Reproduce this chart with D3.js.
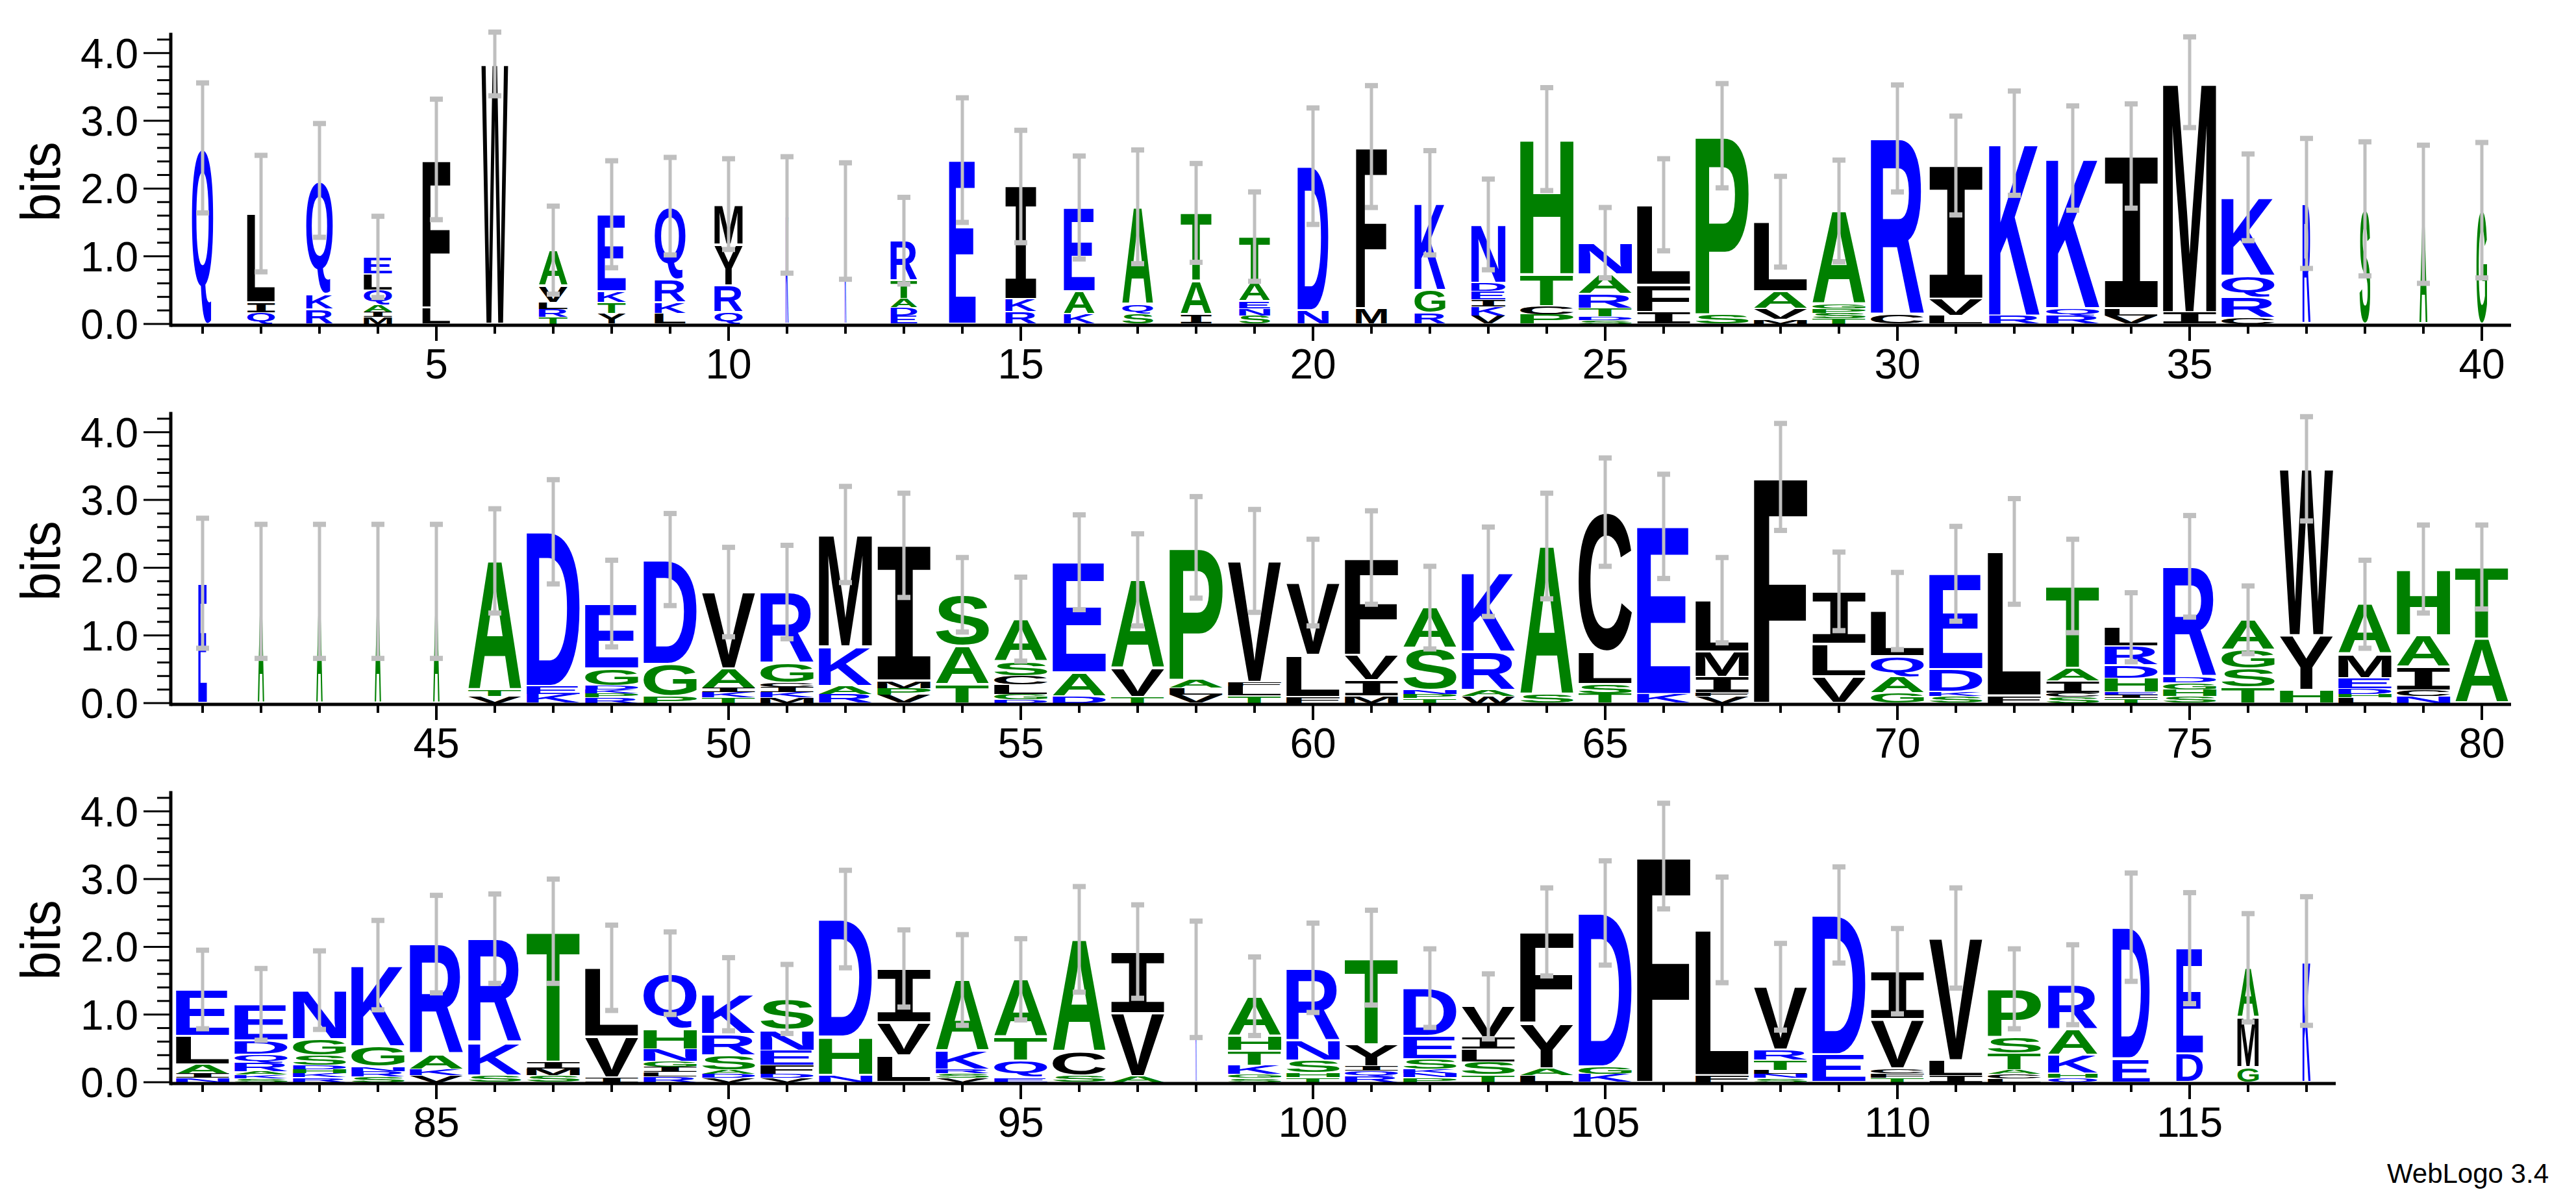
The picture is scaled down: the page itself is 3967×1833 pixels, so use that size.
<!DOCTYPE html>
<html lang="en">
<head>
<meta charset="utf-8">
<title>WebLogo</title>
<script src="https://d3js.org/d3.v7.min.js"></script>
<style>
  body { margin: 0; background: white; }
  svg { display: block; }
</style>
</head>
<body>
<script>

// letter stacks, top to bottom: letter + height in bits
var stacks = [
  "Q2.6", "L1.31 I.15 Q.17", "Q1.68 K.22 R.22", "E.25 L.24 Q.22 A.1 I.08 M.1", "F2.19 L.24",
  "W3.84", "A.53 V.24 L.1 R.12 T.1", "E1.14 K.16 T.16 Y.16", "Q1.08 R.34 K.16 L.16", "M.6 Y.6 R.4 Q.17",
  "K1.61", "K1.52", "R.59 T.27 A.13 D.12 E.12", "E2.42", "I1.67 K.18 R.18",
  "E1.24 A.33 K.15", "A1.44 Q.14 S.15", "T1.01 A.49 I.14", "T.68 A.27 E.11 N.11 S.12", "D2.13 N.2",
  "F2.39 M.23", "K1.29 G.34 R.16", "N.87 D.12 E.12 I.11 K.13 V.12", "H2.0 T.47 C.12 P.14", "N.47 A.28 R.22 T.12 D.05 S.06",
  "L1.18 F.4 I.18", "P2.64 S.14", "L1.03 A.25 V.16 M.07", "A1.37 G.07 P.07 S.08 T.08", "R2.61 C.13",
  "I1.97 V.25 L.12", "K2.55 R.12", "K2.22 Q.11 R.12", "I2.25 L.11 V.12", "M3.4 I.17",
  "K1.16 Q.31 R.31 C.09", "R1.78", "S1.7", "A1.62", "G1.68",
  "E1.77", "A1.65", "A1.65", "A1.65", "A1.65",
  "A1.91 T.09 V.1", "D2.28 E.12 K.13", "E.96 G.25 D.06 K.06 P.06 R.08", "D1.54 G.48 P.1", "V1.13 A.29 I.06 K.08 T.08",
  "R1.05 G.29 C.06 I.08 K.08 M.08", "M1.66 K.58 A.12 R.13", "I2.0 M.11 P.1 V.12", "S.76 A.57 T.27", "A.63 S.21 C.13 L.14 G.08 D.05",
  "E1.63 A.35 D.1", "A1.31 V.42 T.09", "P1.96 A.12 L.1 V.12", "V1.79 F.06 L.14 T.11", "V1.07 L.62 F.09",
  "F1.44 V.37 I.23 M.11", "A.6 S.62 N.06 P.06 T.07", "K1.18 R.57 A.09 W.1", "A2.2 S.12", "C2.06 L.48 S.14 T.14",
  "E2.48 K.13", "L.76 M.37 I.24 F.05 V.1", "F3.34", "I.78 L.48 V.39", "L.67 Q.3 A.24 G.15",
  "E1.41 D.33 K.07 S.1", "L2.13 F.11", "T1.21 A.19 I.18 C.06 S.09", "L.28 R.28 D.19 H.21 E.04 I.05 T.07", "R1.64 D.08 G.1 H.1 S.1",
  "A.45 G.27 S.28 T.23", "W2.46 Y.81 H.19", "A.74 M.35 E.16 D.08 H.05 L.08", "H.98 A.47 I.34 C.09 N.1", "T1.06 A.95",
  "E.69 L.42 A.14 I.06 N.06", "E.54 D.2 Q.12 R.13 A.05 K.05 S.06", "N.73 G.23 S.15 D.06 H.06 K.06 R.07", "K1.2 G.3 N.07 R.08 S.08", "R1.63 A.22 K.09 V.1",
  "R1.54 K.48 S.1", "T1.93 I.1 M.1 S.1", "L1.02 V.6 I.07", "Q.82 H.3 N.18 G.08 I.08 L.07 R.08", "K.59 R.31 S.22 A.06 D.06 V.06",
  "S.46 N.3 E.22 F.13 D.06 V.06", "D1.74 H.56 N.11", "I.8 V.49 L.39", "A1.05 K.27 R.06 S.07 V.06", "A.85 T.35 Q.25 E.07",
  "A1.66 C.35 S.1", "I.91 V.93 A.09", "K1.52", "A.58 H.22 T.22 K.13 G.06 S.06", "R1.07 N.3 S.18 H.07 T.07",
  "T1.28 Y.32 I.07 Q.08 R.09", "D.71 E.34 S.15 K.06 N.06 P.07", "V.46 I.17 L.19 S.19 T.11", "F1.35 Y.67 A.1 L.1", "D2.27 G.11 K.12",
  "F3.34", "L2.15 F.1", "V.93 R.15 T.15 L.06 N.06 S.06", "D2.06 E.41", "I.71 V.73 C.07 F.07 T.06",
  "V1.81 L.22 I.1", "P.72 S.23 T.25 A.06 C.07 L.05", "R.67 A.37 K.27 H.07 Q.06", "D1.94 E.35", "E1.56 D.42",
  "A.73 M.74 G.22", "K1.79"
];

// column width as fraction of full (occupancy)
var widths = [
  .4, .52, .5, .53, .52, .5, .54, .53, .58, .53,
  .05, .03, .5, .5, .58, .58, .58, .58, .58, .58,
  .58, .58, .64, 1, 1, 1, 1, 1, 1, 1,
  1, .95, 1, 1, 1, 1, .15, .2, .15, .2,
  .16, .12, .12, .12, .12, 1, 1, 1, 1, 1,
  1, 1, 1, 1, 1, 1, 1, 1, 1, 1,
  1, 1, 1, 1, 1, 1, 1, 1, 1, 1,
  1, 1, 1, 1, 1, 1, 1, 1, 1, 1,
  1, 1, 1, 1, 1, 1, 1, 1, 1, 1,
  1, 1, 1, 1, 1, 1, 1, .02, 1, 1,
  1, 1, 1, 1, 1, 1, 1, 1, 1, 1,
  1, 1, .93, .7, .5, .4, .15
];

// half length of error bar (bits)
var errors = [
  .96, .86, .84, .6, .89, .47, .65, .79, .72, .67,
  .86, .86, .64, .92, .83, .76, .84, .73, .66, .86,
  .9, .77, .67, .76, .52, .68, .77, .67, .75, .79,
  .73, .77, .77, .77, .67, .64, .96, .99, 1.02, 1.0,
  .96, .99, .99, .99, .99, .77, .77, .64, .68, .66,
  .69, .71, .77, .55, .62, .7, .68, .75, .76, .64,
  .69, .61, .66, .78, .8, .77, .63, .79, .58, .57,
  .7, .78, .69, .51, .75, .5, .77, .65, .65, .62,
  .58, .53, .58, .66, .72, .66, .77, .63, .61, .54,
  .51, .72, .57, .67, .6, .78, .69, .86, .58, .66,
  .7, .58, .48, .65, .77, .78, .78, .64, .71, .63,
  .74, .59, .59, .8, .82, .8, .95
];

var yTicks = [0, 1, 2, 3, 4];
var perRow = 40;
var nRows = 3;

var colors = {};
"DEKRNQ".split("").forEach(c => colors[c] = "#0000ff");
"AGSTPH".split("").forEach(c => colors[c] = "#008000");
"CFILMVWY".split("").forEach(c => colors[c] = "#000000");

var w = 3967, h = 1833;
var axisX = 263;
var baselines = [499, 1083, 1667];
var bitPx = 104.3;
var step = 90;
var fullW = 82;
var font = "bold 200px 'Liberation Sans', Arial, sans-serif";
// the serif I of the logo font
var fontI = "bold 200px 'DejaVu Sans Mono', 'Liberation Mono', monospace";
function fontOf(c) { return c === "I" ? fontI : font; }

var svg = d3.select("body").append("svg")
  .attr("width", w).attr("height", h);

// tight glyph bounds from canvas
var ctx = document.createElement("canvas").getContext("2d");
var glyphBox = {};
function box(c) {
  if (!glyphBox[c]) {
    ctx.font = fontOf(c);
    var m = ctx.measureText(c);
    glyphBox[c] = {l: m.actualBoundingBoxLeft, r: m.actualBoundingBoxRight,
                   a: m.actualBoundingBoxAscent, d: m.actualBoundingBoxDescent};
  }
  return glyphBox[c];
}

var data = stacks.map(function(s, i) {
  var letters = s.split(" ").map(t => ({c: t[0], v: +t.slice(1)}));
  return {pos: i + 1, letters: letters, width: widths[i], err: errors[i],
          total: d3.sum(letters, d => d.v)};
});

for (var r = 0; r < nRows; r++) {
  var rowData = data.slice(r * perRow, (r + 1) * perRow);
  var first = r * perRow + 1;
  var base = baselines[r];

  var x = d3.scaleLinear()
    .domain([first - 0.5, first + perRow - 0.5])
    .range([axisX + 4, axisX + 4 + perRow * step]);
  var y = d3.scaleLinear().domain([0, 4.3]).range([base, base - 4.3 * bitPx]);

  var g = svg.append("g");

  // letters
  rowData.forEach(function(d) {
    var cw = fullW * d.width;
    var x0 = x(d.pos) - cw / 2;
    var acc = d.total;
    d.letters.forEach(function(l) {
      var yTop = y(acc);
      var hh = y(acc - l.v) - yTop;
      acc -= l.v;
      var pad = Math.min(hh * 0.04, 2);
      var gh = hh - 2 * pad;
      if (gh <= 0) return;
      var b = box(l.c);
      var sx = cw / (b.l + b.r), sy = gh / (b.a + b.d);
      g.append("text")
        .attr("transform", `translate(${x0},${yTop + pad}) scale(${sx},${sy}) translate(${b.l},${b.a})`)
        .style("font", fontOf(l.c))
        .attr("fill", colors[l.c])
        .text(l.c);
    });
  });

  // error bars
  var eb = g.selectAll(".err").data(rowData).join("g").attr("class", "err");
  eb.append("line")
    .attr("x1", d => x(d.pos)).attr("x2", d => x(d.pos))
    .attr("y1", d => y(d.total + d.err)).attr("y2", d => y(Math.max(0, d.total - d.err)))
    .attr("stroke", "#bfbfbf").attr("stroke-width", 5);
  [1, -1].forEach(function(sgn) {
    eb.append("rect")
      .attr("x", d => x(d.pos) - 10).attr("width", 20)
      .attr("y", d => y(Math.max(0, d.total + sgn * d.err)) - 4).attr("height", 8)
      .attr("fill", "#bfbfbf");
  });

  // x axis
  var last = Math.min(first + perRow - 1, data.length);
  var xEnd = x(last + 0.5);
  g.append("line").attr("x1", axisX).attr("x2", xEnd)
    .attr("y1", base + 2).attr("y2", base + 2)
    .attr("stroke", "black").attr("stroke-width", 5);
  var ticks = d3.range(first, last + 1);
  g.selectAll(".xt").data(ticks).join("line")
    .attr("x1", d => x(d)).attr("x2", d => x(d))
    .attr("y1", base + 4).attr("y2", d => base + (d % 5 === 0 ? 26 : 15))
    .attr("stroke", "black").attr("stroke-width", 4);
  g.selectAll(".xl").data(ticks.filter(d => d % 5 === 0)).join("text")
    .attr("x", d => x(d)).attr("y", base + 84)
    .attr("text-anchor", "middle")
    .style("font-family", "'Liberation Sans', Arial, sans-serif")
    .style("font-size", "64px")
    .text(d => d);

  // y axis
  g.append("line").attr("x1", axisX).attr("x2", axisX)
    .attr("y1", base + 4.5).attr("y2", y(4.3))
    .attr("stroke", "black").attr("stroke-width", 5);
  g.selectAll(".ym").data(d3.range(0, 4.3, 0.2)).join("line")
    .attr("x1", d => Math.abs(d - Math.round(d)) < 1e-6 ? axisX - 42 : axisX - 21)
    .attr("x2", axisX)
    .attr("y1", d => y(d)).attr("y2", d => y(d))
    .attr("stroke", "black").attr("stroke-width", 3);
  g.selectAll(".yl").data(yTicks).join("text")
    .attr("x", axisX - 50).attr("y", d => y(d) + 23)
    .attr("text-anchor", "end")
    .style("font-family", "'Liberation Sans', Arial, sans-serif")
    .style("font-size", "64px")
    .text(d => d.toFixed(1));
  g.append("text")
    .attr("transform", `translate(92,${y(2.1)}) rotate(-90)`)
    .attr("text-anchor", "middle")
    .attr("textLength", 123).attr("lengthAdjust", "spacingAndGlyphs")
    .style("font-family", "'Liberation Sans', Arial, sans-serif")
    .style("font-size", "86px")
    .text("bits");
}

svg.append("text")
  .attr("x", 3925).attr("y", 1822)
  .attr("text-anchor", "end")
  .style("font-family", "'Liberation Sans', Arial, sans-serif")
  .style("font-size", "42px")
  .text("WebLogo 3.4");

</script>
</body>
</html>
